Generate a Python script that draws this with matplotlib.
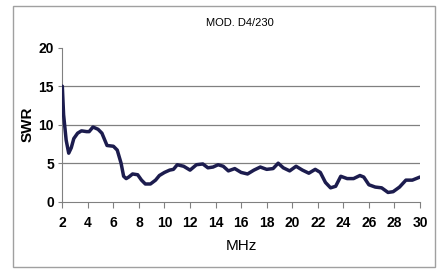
import numpy as np
import matplotlib
matplotlib.use('Agg')
import matplotlib.pyplot as plt
from matplotlib.patches import Rectangle

# Frequency (MHz) and SWR
freq = [2.0, 2.1, 2.3, 2.5, 2.7, 2.9, 3.2, 3.5, 3.9, 4.1, 4.4, 4.8, 5.1, 5.5, 6.0, 6.3, 6.6,
        6.8, 7.0, 7.2, 7.5, 7.9, 8.2, 8.5, 8.9, 9.3, 9.6, 10.0, 10.4, 10.7, 11.0, 11.5,
        12.0, 12.5, 13.0, 13.4, 13.8, 14.2, 14.6, 15.0, 15.5, 16.0, 16.5, 17.0, 17.5,
        18.0, 18.5, 18.9, 19.3, 19.8, 20.3, 20.8, 21.3, 21.8, 22.2, 22.6, 23.0, 23.4,
        23.8, 24.3, 24.8, 25.3, 25.6, 26.0, 26.5, 27.0, 27.5, 27.9, 28.4, 28.9, 29.4, 30.0]
swr = [15.0, 11.3, 8.0, 6.3, 7.0, 8.2, 8.9, 9.2, 9.1, 9.1, 9.7, 9.4, 8.9, 7.3, 7.2, 6.7, 5.0,
       3.3, 3.0, 3.2, 3.6, 3.5, 2.8, 2.3, 2.3, 2.8, 3.4, 3.8, 4.1, 4.2, 4.8, 4.6,
       4.1, 4.8, 4.9, 4.4, 4.5, 4.8, 4.6, 4.0, 4.3, 3.8, 3.6, 4.1, 4.5,
       4.2, 4.3, 5.0, 4.4, 4.0, 4.6, 4.1, 3.7, 4.2, 3.8, 2.5, 1.8, 2.0,
       3.3, 3.0, 3.0, 3.4, 3.2, 2.2, 1.9, 1.8, 1.2, 1.3, 1.9, 2.8, 2.8, 3.2]

x_ticks = list(range(2, 31, 2))
y_ticks = [0, 5, 10, 15, 20]

plt.rcParams['font.family'] = ['Liberation Sans', 'DejaVu Sans']

fig = plt.figure(figsize=(4.37, 2.73), dpi=100)
fig.patches.append(Rectangle((13 / 437, 6 / 273), 422 / 437, 261 / 273, transform=fig.transFigure,
                             fill=False, edgecolor='#a0a0a0', lw=1.0))
ax = fig.add_axes([0.1426, 0.2612, 0.8184, 0.5641])

for g in [5, 10, 15]:
    ax.axhline(g, color='#808080', lw=0.9, zorder=1)

ax.plot(freq, swr, color='#1c1c4e', lw=2.5, zorder=3, solid_joinstyle='round',
        solid_capstyle='round')

ax.set_xlim(2, 30)
ax.set_ylim(0, 20)
ax.set_xticks(x_ticks)
ax.set_yticks(y_ticks)
ax.set_xticklabels([str(t) for t in x_ticks], fontsize=10, fontweight='bold')
ax.set_yticklabels([str(t) for t in y_ticks], fontsize=10, fontweight='bold')
ax.tick_params(axis='x', length=4, width=0.8, color='#808080', pad=6)
ax.tick_params(axis='y', length=3, width=0.8, color='#808080', pad=3)

for s in ['top', 'right']:
    ax.spines[s].set_visible(False)
ax.spines['left'].set_color('#808080')
ax.spines['bottom'].set_color('#808080')
ax.spines['left'].set_linewidth(0.8)
ax.spines['bottom'].set_linewidth(0.8)

ax.set_xlabel('MHz', fontsize=11, labelpad=7)
ax.set_ylabel('SWR', fontsize=11, fontweight='bold', labelpad=3)
fig.text(0.55, 0.916, 'MOD. D4/230', fontsize=8, ha='center', va='center')

fig.savefig('out.png', dpi=100)
